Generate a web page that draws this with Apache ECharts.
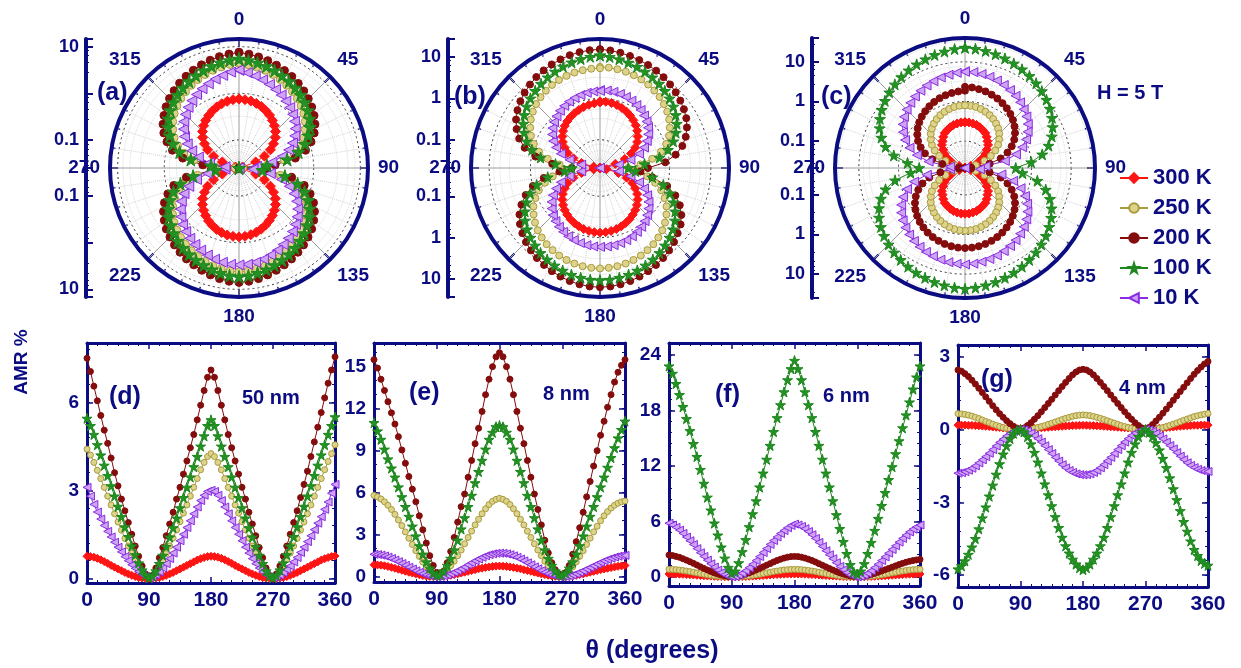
<!DOCTYPE html>
<html><head><meta charset="utf-8">
<script src="https://cdn.jsdelivr.net/npm/echarts@6/dist/echarts.min.js"></script>
<style>html,body{margin:0;padding:0;background:#fff}#c{width:1241px;height:668px}</style>
</head><body><div id="c"></div>
<script>
// angle grid (degrees), 5 degree steps
const ANG = Array.from({length:73},(_,i)=>i*5);
const LEGEND = ['300 K','250 K','200 K','100 K','10 K'];

// ---- 50 nm (panel d, polar a) ----
const d50_300 = [0.75,0.74,0.72,0.68,0.63,0.57,0.51,0.44,0.38,0.32,0.26,0.2,0.15,0.1,0.06,0.03,0.01,0.0,0.0,
 0.0,0.01,0.03,0.06,0.1,0.15,0.2,0.26,0.32,0.38,0.44,0.5,0.56,0.62,0.67,0.71,0.74,0.75,
 0.74,0.72,0.68,0.63,0.57,0.51,0.44,0.38,0.32,0.26,0.2,0.15,0.1,0.06,0.03,0.01,0.0,0.0,
 0.0,0.01,0.03,0.06,0.1,0.15,0.2,0.26,0.32,0.38,0.44,0.5,0.56,0.62,0.67,0.71,0.74,0.76];
const d50_250 = [4.4,4.2,3.95,3.68,3.4,3.1,2.8,2.5,2.2,1.92,1.64,1.36,1.1,0.86,0.63,0.42,0.24,0.1,0.03,
 0.08,0.2,0.38,0.6,0.84,1.1,1.37,1.65,1.93,2.22,2.5,2.8,3.1,3.4,3.7,3.95,4.15,4.25,
 4.15,3.95,3.7,3.4,3.1,2.8,2.5,2.22,1.93,1.65,1.37,1.1,0.84,0.6,0.38,0.2,0.08,0.03,
 0.1,0.24,0.42,0.63,0.86,1.1,1.36,1.64,1.92,2.2,2.5,2.8,3.1,3.4,3.7,3.98,4.25,4.55];
const d50_200 = [7.5,7.05,6.55,6.05,5.55,5.05,4.6,4.1,3.6,3.15,2.7,2.3,1.9,1.5,1.1,0.75,0.42,0.15,0.02,
 0.1,0.35,0.7,1.05,1.45,1.85,2.25,2.7,3.1,3.55,4.0,4.45,4.9,5.4,5.9,6.4,6.85,7.1,
 6.85,6.4,5.9,5.4,4.9,4.45,4.0,3.55,3.1,2.7,2.25,1.85,1.45,1.05,0.7,0.35,0.1,0.02,
 0.15,0.42,0.75,1.1,1.5,1.9,2.3,2.75,3.2,3.65,4.15,4.65,5.15,5.65,6.15,6.65,7.1,7.55];
const d50_100 = [5.45,5.2,4.9,4.55,4.2,3.85,3.5,3.15,2.8,2.45,2.1,1.75,1.42,1.1,0.8,0.52,0.28,0.1,0.02,
 0.08,0.25,0.5,0.78,1.08,1.4,1.72,2.05,2.4,2.75,3.1,3.45,3.8,4.15,4.5,4.85,5.2,5.4,
 5.2,4.85,4.5,4.15,3.8,3.45,3.1,2.75,2.4,2.05,1.72,1.4,1.08,0.78,0.5,0.25,0.08,0.02,
 0.1,0.28,0.52,0.8,1.1,1.42,1.75,2.1,2.45,2.8,3.15,3.5,3.85,4.2,4.55,4.9,5.2,5.5];
const d50_10 = [3.1,2.8,2.52,2.26,2.02,1.8,1.6,1.41,1.23,1.06,0.9,0.74,0.6,0.46,0.34,0.23,0.13,0.06,0.02,
 0.05,0.12,0.22,0.35,0.5,0.67,0.86,1.06,1.28,1.5,1.73,1.96,2.2,2.43,2.65,2.83,2.96,3.0,
 2.96,2.83,2.65,2.43,2.2,1.96,1.73,1.5,1.28,1.06,0.86,0.67,0.5,0.35,0.22,0.12,0.05,0.02,
 0.05,0.11,0.2,0.3,0.42,0.56,0.71,0.88,1.06,1.25,1.45,1.66,1.88,2.1,2.35,2.6,2.9,3.2];

// ---- 8 nm (panel e, polar b) ----
const e8_300 = [0.85,0.84,0.82,0.78,0.73,0.67,0.6,0.53,0.46,0.39,0.32,0.26,0.2,0.14,0.09,0.05,0.02,0.01,0.0,
 0.01,0.03,0.06,0.1,0.15,0.2,0.26,0.32,0.38,0.44,0.5,0.56,0.61,0.66,0.7,0.73,0.75,0.76,
 0.75,0.73,0.7,0.66,0.61,0.56,0.5,0.44,0.38,0.32,0.26,0.2,0.15,0.1,0.06,0.03,0.01,0.0,
 0.01,0.03,0.06,0.1,0.15,0.2,0.26,0.32,0.38,0.44,0.5,0.55,0.6,0.65,0.7,0.74,0.77,0.8];
const e8_250 = [5.8,5.7,5.55,5.35,5.1,4.8,4.45,4.05,3.65,3.2,2.75,2.3,1.85,1.45,1.05,0.7,0.4,0.2,0.1,
 0.15,0.3,0.5,0.78,1.1,1.5,1.9,2.35,2.8,3.25,3.7,4.1,4.5,4.85,5.15,5.38,5.52,5.6,
 5.52,5.38,5.15,4.85,4.5,4.1,3.7,3.25,2.8,2.35,1.9,1.5,1.1,0.78,0.5,0.3,0.15,0.1,
 0.2,0.4,0.7,1.05,1.45,1.85,2.3,2.75,3.2,3.6,4.0,4.35,4.65,4.9,5.1,5.25,5.35,5.4];
const e8_200 = [15.5,14.9,14.1,13.3,12.5,11.7,10.9,10.0,9.05,8.1,7.15,6.25,5.35,4.35,3.35,2.4,1.5,0.8,0.3,
 0.2,0.4,1.0,1.8,2.8,3.9,5.0,5.9,7.1,8.3,9.5,10.6,11.8,13.0,14.1,15.0,15.7,16.0,
 15.7,15.0,14.1,13.0,11.8,10.6,9.5,8.3,7.1,5.9,4.8,3.7,2.6,1.7,1.0,0.5,0.2,0.1,
 0.3,0.8,1.6,2.5,3.5,4.6,5.7,6.8,7.9,9.0,10.1,11.1,12.1,13.0,13.9,14.6,15.1,15.5];
const e8_100 = [11.0,10.4,9.8,9.1,8.4,7.75,7.1,6.4,5.7,5.0,4.3,3.6,2.9,2.2,1.6,1.05,0.6,0.25,0.1,
 0.15,0.4,0.8,1.3,1.9,2.6,3.4,4.2,5.0,5.8,6.7,7.5,8.3,9.1,9.8,10.3,10.7,10.8,
 10.7,10.3,9.8,9.1,8.3,7.5,6.7,5.8,5.0,4.2,3.4,2.6,1.9,1.3,0.8,0.4,0.15,0.1,
 0.25,0.6,1.05,1.6,2.2,2.9,3.6,4.3,5.0,5.7,6.4,7.1,7.8,8.5,9.2,9.9,10.5,11.1];
const e8_10 = [1.6,1.58,1.54,1.48,1.4,1.3,1.19,1.07,0.94,0.81,0.68,0.55,0.42,0.31,0.21,0.12,0.06,0.02,0.0,
 0.02,0.06,0.12,0.21,0.31,0.43,0.56,0.7,0.85,0.99,1.13,1.26,1.38,1.49,1.57,1.63,1.67,1.68,
 1.67,1.63,1.57,1.49,1.38,1.26,1.13,0.99,0.85,0.7,0.56,0.43,0.31,0.21,0.12,0.06,0.02,0.0,
 0.02,0.06,0.12,0.21,0.31,0.42,0.54,0.66,0.78,0.9,1.02,1.13,1.23,1.32,1.4,1.46,1.5,1.52];

// ---- 6 nm (panel f, polar c) ----
const f6_300 = [0.3,0.3,0.29,0.28,0.26,0.24,0.22,0.19,0.16,0.14,0.11,0.09,0.07,0.05,0.03,0.02,0.01,0.0,0.0,
 0.0,0.01,0.02,0.03,0.05,0.07,0.09,0.11,0.14,0.16,0.19,0.22,0.24,0.26,0.28,0.29,0.3,0.3,
 0.3,0.29,0.28,0.26,0.24,0.22,0.19,0.16,0.14,0.11,0.09,0.07,0.05,0.03,0.02,0.01,0.0,0.0,
 0.0,0.01,0.02,0.03,0.05,0.07,0.09,0.11,0.14,0.16,0.19,0.22,0.24,0.26,0.28,0.29,0.3,0.3];
const f6_250 = [0.8,0.79,0.77,0.73,0.68,0.62,0.56,0.49,0.42,0.35,0.28,0.22,0.16,0.11,0.07,0.04,0.02,0.0,0.0,
 0.0,0.02,0.04,0.07,0.11,0.16,0.22,0.28,0.35,0.42,0.49,0.56,0.62,0.68,0.73,0.77,0.79,0.8,
 0.79,0.77,0.73,0.68,0.62,0.56,0.49,0.42,0.35,0.28,0.22,0.16,0.11,0.07,0.04,0.02,0.0,0.0,
 0.0,0.02,0.04,0.07,0.11,0.16,0.22,0.28,0.35,0.42,0.49,0.56,0.62,0.68,0.73,0.77,0.79,0.8];
const f6_200 = [2.35,2.3,2.2,2.1,1.95,1.8,1.63,1.45,1.27,1.08,0.9,0.73,0.57,0.42,0.29,0.18,0.09,0.03,0.0,
 0.03,0.09,0.18,0.29,0.42,0.57,0.73,0.9,1.07,1.25,1.42,1.6,1.76,1.9,2.02,2.12,2.18,2.2,
 2.18,2.12,2.02,1.9,1.76,1.6,1.42,1.25,1.07,0.9,0.73,0.57,0.42,0.29,0.18,0.09,0.03,0.0,
 0.03,0.08,0.15,0.25,0.36,0.49,0.62,0.76,0.9,1.04,1.18,1.32,1.45,1.57,1.67,1.75,1.82,1.88];
const f6_100 = [22.8,22.0,20.9,19.7,18.4,17.1,15.8,14.4,13.0,11.6,10.1,8.6,7.2,5.8,4.5,3.2,2.0,1.0,0.4,
 0.6,1.5,2.7,4.0,5.4,6.8,8.2,9.7,11.2,12.7,14.2,15.7,17.2,18.6,20.0,21.3,22.5,23.4,
 22.5,21.3,20.0,18.6,17.2,15.7,14.2,12.7,11.2,9.7,8.2,6.7,5.2,3.8,2.5,1.3,0.5,0.3,
 0.6,1.4,2.5,3.7,5.0,6.3,7.7,9.1,10.5,11.9,13.3,14.7,16.1,17.5,18.9,20.3,21.6,22.8];
const f6_10 = [5.8,5.6,5.35,5.05,4.7,4.3,3.9,3.5,3.05,2.6,2.2,1.8,1.4,1.05,0.72,0.45,0.22,0.07,0.0,
 0.05,0.18,0.38,0.65,0.98,1.35,1.75,2.18,2.62,3.05,3.5,3.92,4.3,4.68,5.0,5.3,5.55,5.7,
 5.6,5.45,5.2,4.9,4.55,4.15,3.72,3.28,2.82,2.38,1.95,1.52,1.12,0.76,0.45,0.2,0.05,0.0,
 0.05,0.18,0.38,0.65,0.98,1.35,1.75,2.15,2.55,2.95,3.35,3.75,4.15,4.5,4.85,5.15,5.4,5.6];

// ---- 4 nm (panel g) ----
const g4_300 = [0.18,0.18,0.18,0.17,0.17,0.16,0.15,0.14,0.13,0.12,0.1,0.09,0.08,0.06,0.05,0.04,0.03,0.03,0.02,
 0.03,0.03,0.04,0.05,0.06,0.07,0.08,0.09,0.1,0.11,0.12,0.13,0.14,0.15,0.16,0.16,0.17,0.17,
 0.17,0.16,0.16,0.15,0.14,0.13,0.12,0.11,0.1,0.09,0.08,0.07,0.06,0.05,0.04,0.03,0.03,0.02,
 0.03,0.03,0.04,0.05,0.06,0.08,0.09,0.1,0.12,0.13,0.14,0.15,0.16,0.17,0.17,0.18,0.18,0.18];
const g4_250 = [0.65,0.64,0.62,0.59,0.55,0.5,0.45,0.39,0.33,0.28,0.22,0.17,0.12,0.08,0.05,0.02,0.01,0.0,0.0,
 0.0,0.01,0.03,0.05,0.08,0.12,0.16,0.21,0.26,0.31,0.36,0.41,0.46,0.5,0.54,0.57,0.59,0.6,
 0.59,0.57,0.54,0.5,0.46,0.41,0.36,0.31,0.26,0.21,0.16,0.12,0.08,0.05,0.03,0.01,0.0,0.0,
 0.0,0.01,0.03,0.05,0.08,0.12,0.17,0.22,0.27,0.32,0.38,0.43,0.48,0.53,0.57,0.6,0.63,0.66];
const g4_200 = [2.45,2.4,2.3,2.18,2.03,1.87,1.7,1.52,1.34,1.16,0.98,0.81,0.65,0.5,0.36,0.24,0.13,0.05,0.0,
 0.06,0.16,0.28,0.42,0.57,0.73,0.9,1.07,1.24,1.42,1.6,1.77,1.94,2.1,2.25,2.37,2.45,2.48,
 2.45,2.37,2.25,2.1,1.94,1.77,1.6,1.42,1.24,1.07,0.9,0.73,0.57,0.42,0.28,0.16,0.06,0.0,
 0.08,0.2,0.35,0.5,0.67,0.84,1.02,1.2,1.38,1.56,1.74,1.92,2.1,2.27,2.43,2.57,2.7,2.8];
const g4_100 = [-5.75,-5.62,-5.42,-5.15,-4.85,-4.5,-4.1,-3.65,-3.2,-2.75,-2.3,-1.85,-1.42,-1.02,-0.68,-0.38,-0.16,-0.04,0.0,
 -0.1,-0.3,-0.6,-0.95,-1.35,-1.8,-2.25,-2.7,-3.15,-3.6,-4.05,-4.45,-4.8,-5.1,-5.35,-5.55,-5.7,-5.78,
 -5.7,-5.55,-5.35,-5.1,-4.8,-4.45,-4.05,-3.6,-3.15,-2.7,-2.25,-1.8,-1.35,-0.95,-0.6,-0.3,-0.1,0.0,
 -0.12,-0.3,-0.55,-0.85,-1.2,-1.58,-2.0,-2.45,-2.9,-3.35,-3.8,-4.2,-4.6,-4.95,-5.2,-5.4,-5.52,-5.6];
const g4_10 = [-1.8,-1.78,-1.74,-1.68,-1.6,-1.5,-1.38,-1.25,-1.12,-0.98,-0.83,-0.68,-0.53,-0.4,-0.27,-0.16,-0.08,-0.02,0.0,
 -0.02,-0.07,-0.15,-0.25,-0.38,-0.52,-0.67,-0.83,-0.99,-1.15,-1.3,-1.45,-1.58,-1.69,-1.77,-1.83,-1.86,-1.87,
 -1.86,-1.83,-1.77,-1.69,-1.58,-1.45,-1.3,-1.15,-0.99,-0.83,-0.67,-0.52,-0.38,-0.25,-0.15,-0.07,-0.02,0.0,
 -0.02,-0.08,-0.16,-0.27,-0.39,-0.52,-0.66,-0.8,-0.95,-1.1,-1.24,-1.37,-1.48,-1.57,-1.64,-1.69,-1.72,-1.73];

// tick labels
const xTicks = [0,90,180,270,360];
const dTicks = [0,3,6];
const eTicks = [0,3,6,9,12,15];
const fTicks = [0,6,12,18,24];
const gTicks = [-6,-3,0,3];
const radTicksA = [0.1,10];
const radTicksB = [0.1,1,10];
const radTicksC = [0.1,1,10];
const angleTicks = [0,45,90,135,180,225,270,315];

// ---------- styling / layout ----------
const NAVY = '#0c0c82';
const FONT = 'Liberation Sans';
const STAR = 'path://M50,0 L61,35 L98,35 L68,57 L79,91 L50,70 L21,91 L32,57 L2,35 L39,35 Z';
const STY = {
  '300 K': {symbol:'diamond', size:8, line:'#ff1414', fill:'#ff1414', rot:0},
  '250 K': {symbol:'circle', size:6, line:'#a89a3c', fill:'#ddd38a', rot:0},
  '200 K': {symbol:'circle', size:6, line:'#840c0c', fill:'#840c0c', rot:0},
  '100 K': {symbol:STAR, size:10, line:'#1d861d', fill:'#229222', rot:0},
  '10 K':  {symbol:'triangle', size:8, line:'#8a2be2', fill:'#cda4f4', rot:90}
};
const DRAW_ORDER = ['300 K','250 K','200 K','10 K','100 K'];
const lbl = (size)=>({color:NAVY, fontSize:size, fontWeight:'bold', fontFamily:FONT});

const POL = [
  {cx:239, cy:168, r:129, bar:86,  rmin:0.025,  rmax:14.6, rt:radTicksA, big:1.25,
   data:{'300 K':d50_300,'250 K':d50_250,'200 K':d50_200,'100 K':d50_100,'10 K':d50_10}},
  {cx:600, cy:168, r:129, bar:448, rmin:0.0207, rmax:27.5, rt:radTicksB, big:1.1,
   data:{'300 K':e8_300,'250 K':e8_250,'200 K':e8_200,'100 K':e8_100,'10 K':e8_10}},
  {cx:965, cy:168, r:130, bar:812, rmin:0.021,  rmax:40,   rt:radTicksC, big:1.1,
   data:{'300 K':f6_300,'250 K':f6_250,'200 K':f6_200,'100 K':f6_100,'10 K':f6_10}}
];
const CART = [
  {left:87,  top:343, width:248, height:240, min:-0.16, max:8.02, ticks:dTicks, minor:0.6,
   data:{'300 K':d50_300,'250 K':d50_250,'200 K':d50_200,'100 K':d50_100,'10 K':d50_10}},
  {left:374, top:343, width:251, height:239, min:-0.38, max:16.69, ticks:eTicks, minor:1,
   data:{'300 K':e8_300,'250 K':e8_250,'200 K':e8_200,'100 K':e8_100,'10 K':e8_10}},
  {left:669, top:343, width:251, height:243, min:-1.0, max:25.3, ticks:fTicks, minor:1.2,
   data:{'300 K':f6_300,'250 K':f6_250,'200 K':f6_200,'100 K':f6_100,'10 K':f6_10}},
  {left:958, top:345, width:250, height:242, min:-6.49, max:3.48, ticks:gTicks, minor:0.6,
   data:{'300 K':g4_300,'250 K':g4_250,'200 K':g4_200,'100 K':g4_100,'10 K':g4_10}}
];

const polar=[], angleAxis=[], radiusAxis=[], grid=[], xAxis=[], yAxis=[], series=[];

POL.forEach((P,i)=>{
  polar.push({center:[P.cx,P.cy], radius:P.r});
  angleAxis.push({polarIndex:i, type:'value', min:0, max:360, interval:45, startAngle:90, clockwise:true,
    axisLine:{lineStyle:{color:NAVY, width:4}},
    axisTick:{inside:true, length:8, lineStyle:{color:NAVY, width:2}},
    minorTick:{show:true, splitNumber:5, length:4, lineStyle:{color:NAVY, width:1.5}},
    axisLabel:Object.assign({margin:10, formatter:v=>angleTicks.includes(v)?String(v):''}, lbl(19)),
    splitLine:{show:true, lineStyle:{color:'#9c9c9c', width:1}},
    minorSplitLine:{show:true, lineStyle:{color:'#d2d2d2', width:1, type:'dotted'}}});
  radiusAxis.push({polarIndex:i, type:'log', min:P.rmin, max:P.rmax,
    axisLine:{show:false}, axisTick:{show:false}, axisLabel:{show:false},
    splitLine:{show:true, lineStyle:{color:'#333', width:1, type:[2,3]}},
    minorTick:{show:false, splitNumber:4},
    minorSplitLine:{show:true, lineStyle:{color:'#dadada', width:1, type:'dotted'}}});
  // vertical radial scale bar: upper half and mirrored lower half
  [false,true].forEach(inv=>{
    const gi = grid.length;
    grid.push({left:P.bar, width:10, top: inv ? P.cy : P.cy-P.r, height:P.r});
    xAxis.push({gridIndex:gi, type:'value', show:false});
    yAxis.push({gridIndex:gi, type:'log', min:P.rmin, max:P.rmax, inverse:inv, position:'left',
      axisLine:{show:true, onZero:false, lineStyle:{color:NAVY, width:4}},
      axisTick:{show:true, inside:true, length:7, lineStyle:{color:NAVY, width:2}},
      minorTick:{show:true, splitNumber:5, length:3, lineStyle:{color:NAVY, width:1}},
      splitLine:{show:false},
      axisLabel:Object.assign({customValues:P.rt, margin:7, formatter:v=>String(v)}, lbl(18))});
  });
  DRAW_ORDER.forEach(name=>{
    const s=STY[name], arr=P.data[name];
    series.push({type:'line', name, coordinateSystem:'polar', polarIndex:i,
      data: arr.map((v,k)=>[Math.max(Math.abs(v), P.rmin), ANG[k]]),
      symbol:s.symbol, symbolSize:Math.round(s.size*P.big), symbolRotate:s.rot,
      itemStyle:{color:s.fill, borderColor:s.line, borderWidth:1},
      lineStyle:{color:s.line, width:1}, emphasis:{disabled:true}});
  });
});

function minorList(min,max,step){const out=[];for(let v=Math.ceil(min/step)*step; v<=max+1e-9; v+=step){out.push(+v.toFixed(4));}return out;}

CART.forEach(C=>{
  const gi = grid.length;
  grid.push({left:C.left, top:C.top, width:C.width, height:C.height});
  const xBase = {gridIndex:gi, type:'value', min:0, max:360, interval:90,
    axisLine:{show:true, onZero:false, lineStyle:{color:NAVY, width:3}},
    axisTick:{show:true, inside:true, length:6, lineStyle:{color:NAVY, width:1.5}},
    minorTick:{show:true, splitNumber:6, length:3, lineStyle:{color:NAVY, width:1}},
    splitLine:{show:false}};
  const xi = xAxis.length;
  xAxis.push(Object.assign({}, xBase, {position:'bottom', axisLabel:Object.assign({margin:7, customValues:xTicks}, lbl(21))}));
  xAxis.push(Object.assign({}, xBase, {position:'top', axisLabel:{show:false}}));
  const minors = minorList(C.min, C.max, C.minor);
  const yi = yAxis.length;
  ['left','right'].forEach(pos=>{
    yAxis.push({gridIndex:gi, type:'value', min:C.min, max:C.max, position:pos,
      axisLine:{show:true, onZero:false, lineStyle:{color:NAVY, width:3}},
      axisTick:{show:true, inside:true, length:6, customValues:C.ticks, lineStyle:{color:NAVY, width:1.5}},
      splitLine:{show:false},
      axisLabel: pos==='left' ? Object.assign({margin:8, customValues:C.ticks}, lbl(19)) : {show:false}});
    yAxis.push({gridIndex:gi, type:'value', min:C.min, max:C.max, position:pos,
      axisLine:{show:false, onZero:false},
      axisTick:{show:true, inside:true, length:3, customValues:minors, lineStyle:{color:NAVY, width:1}},
      splitLine:{show:false}, axisLabel:{show:false}});
  });
  DRAW_ORDER.forEach(name=>{
    const s=STY[name], arr=C.data[name];
    series.push({type:'line', name, xAxisIndex:xi, yAxisIndex:yi,
      data: arr.map((v,k)=>[ANG[k], v]),
      symbol:s.symbol, symbolSize:s.size, symbolRotate:s.rot,
      itemStyle:{color:s.fill, borderColor:s.line, borderWidth:1},
      lineStyle:{color:s.line, width:1}, emphasis:{disabled:true}});
  });
});

const txt = (x,y,text,size,extra)=>Object.assign({type:'text', x, y, style:{text, fill:NAVY,
  font:'bold '+size+'px "'+FONT+'"', align:'left', verticalAlign:'middle'}}, extra||{});

const option = {
  animation:false,
  backgroundColor:'#fff',
  polar, angleAxis, radiusAxis, grid, xAxis, yAxis, series,
  legend:{data:LEGEND, orient:'vertical', left:1114, top:162, itemWidth:28, itemHeight:12, itemGap:8,
    textStyle:lbl(22), selectedMode:false},
  graphic:[
    txt(97,93,'(a)',25), txt(454,97,'(b)',25), txt(821,97,'(c)',25),
    txt(1097,93,'H = 5 T',20),
    txt(109,397,'(d)',25), txt(242,398,'50 nm',20),
    txt(409,393,'(e)',25), txt(543,394,'8 nm',20),
    txt(715,395,'(f)',25), txt(823,396,'6 nm',20),
    txt(981,380,'(g)',25), txt(1119,388,'4 nm',20),
    {type:'text', x:22, y:362, rotation:Math.PI/2, style:{text:'AMR %', fill:NAVY, font:'bold 19px "'+FONT+'"', align:'center', verticalAlign:'middle'}},
    {type:'text', x:652, y:651, style:{text:'θ (degrees)', fill:NAVY, font:'bold 25px "'+FONT+'"', align:'center', verticalAlign:'middle'}}
  ]
};
const chart = echarts.init(document.getElementById('c'), null, {renderer:'canvas'});
chart.setOption(option);
</script></body></html>
